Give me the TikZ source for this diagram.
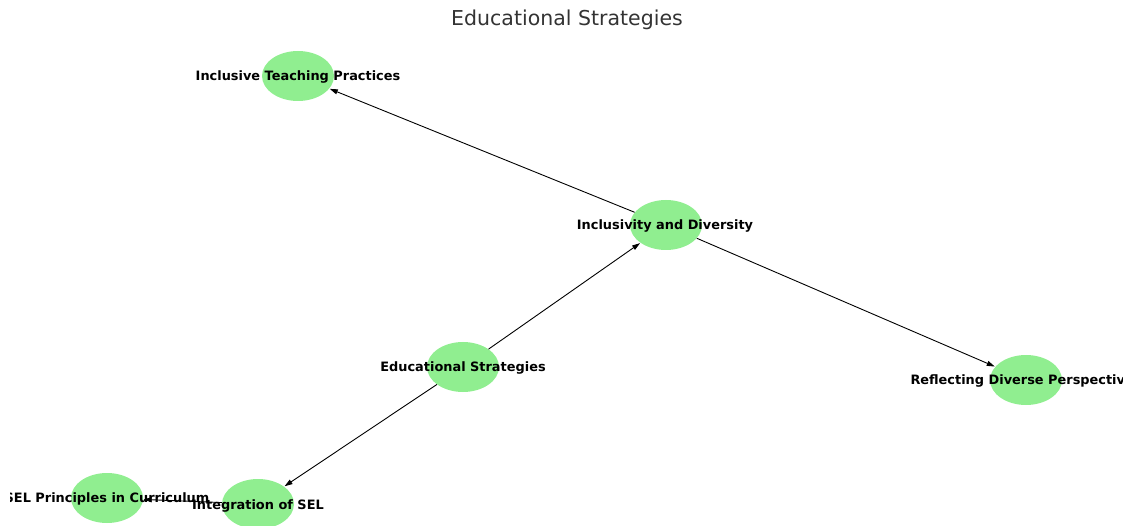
\documentclass[tikz,border=0pt]{standalone}
\usepackage{fontspec}
\setmainfont{DejaVu Sans}
\usetikzlibrary{shapes.geometric,arrows.meta}
\definecolor{nodegreen}{HTML}{90EE90}
\tikzset{
  blob/.style={ellipse,fill=nodegreen,minimum width=72pt,minimum height=50pt,inner sep=0pt},
  lbl/.style={font=\bfseries\fontsize{12.9}{15}\selectfont,inner sep=0pt,text=black},
  conn/.style={draw=black,line width=0.9pt,-{Triangle[length=8pt,width=5pt]},shorten >=0.5pt},
}
\begin{document}
\begin{tikzpicture}[x=1pt,y=-1pt]
\useasboundingbox (0,0) rectangle (1132,526);
\node[font=\fontsize{20.5}{24}\selectfont,text=black!80,inner sep=0pt] (title) at (567,20) {Educational Strategies};
\begin{scope}
\clip (10,0) rectangle (1122,526);
\node[blob] (itp) at (298,76) {};
\node[blob] (id) at (666,225) {};
\node[blob] (es) at (463,367) {};
\node[blob] (rdp) at (1026,380) {};
\node[blob] (isel) at (258,504) {};
\node[blob] (selp) at (107,498) {};
\draw[conn] (es) -- (id);
\draw[conn] (id) -- (itp);
\draw[conn] (id) -- (rdp);
\draw[conn] (es) -- (isel);
\draw[conn] (isel) -- (selp);
\node[lbl] (titp) at (298,76.5) {Inclusive Teaching Practices};
\node[lbl] (tid) at (665,225.5) {Inclusivity and Diversity};
\node[lbl] (tes) at (463,367.5) {Educational Strategies};
\node[lbl] (trdp) at (1026,380.5) {Reflecting Diverse Perspectives};
\node[lbl] (tisel) at (258,505.5) {Integration of SEL};
\node[lbl] (tselp) at (107,498.5) {SEL Principles in Curriculum};
\end{scope}
\end{tikzpicture}
\end{document}
